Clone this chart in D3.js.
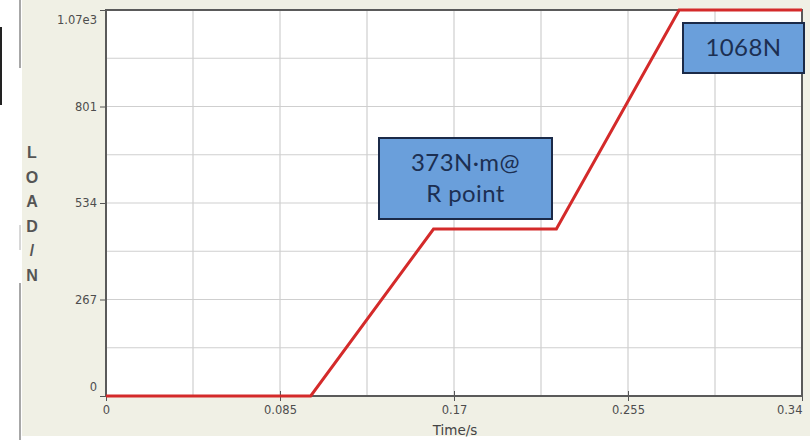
<!DOCTYPE html>
<html>
<head>
<meta charset="utf-8">
<script src="https://cdn.jsdelivr.net/npm/d3@7"></script>
<style>
  html, body { margin: 0; padding: 0; background: #fff; overflow: hidden; }
  svg { display: block; }
  .tick text { font-family: "DejaVu Sans", Verdana, sans-serif; font-size: 11.5px; fill: #4d4d4d; }
  .tick line { stroke: #555; }
  .domain { stroke: none; }
</style>
</head>
<body>
<div id="chart"></div>
<script>
// data
const timeValues = [0, 0.1, 0.16, 0.22, 0.28, 0.34];
const loadValues = [0, 0, 462, 462, 1068, 1068];
const xTickValues = [0, 0.085, 0.17, 0.255, 0.34];
const xTickLabels = ["0", "0.085", "0.17", "0.255", "0.34"];
const yTickValues = [0, 267, 534, 801, 1068];
const yTickLabels = ["0", "267", "534", "801", "1.07e3"];
const notes = [
    { lines: ["373N\u00b7m@", "R point"] },
    { lines: ["1068N"] }
];

const width = 810, height = 445;
const margin = { top: 10, right: 8, bottom: 49, left: 106 };
const innerWidth = width - margin.left - margin.right;
const innerHeight = height - margin.top - margin.bottom;

const svg = d3.select('#chart').append('svg')
    .attr('width', width)
    .attr('height', height);

// window frame bits from the screenshot
svg.append('rect').attr('x', 22).attr('y', 0).attr('width', width - 22).attr('height', 436)
    .attr('fill', '#f0f0e5');
svg.append('line').attr('x1', 20).attr('x2', 20).attr('y1', 0).attr('y2', 68)
    .attr('stroke', '#8a8a8a').attr('stroke-width', 1.5);
svg.append('line').attr('x1', 20).attr('x2', 20).attr('y1', 283).attr('y2', 440)
    .attr('stroke', '#8a8a8a').attr('stroke-width', 1.5);
svg.append('line').attr('x1', 20).attr('x2', 20).attr('y1', 225).attr('y2', 250)
    .attr('stroke', '#b0b0b0').attr('stroke-width', 1);
svg.append('line').attr('x1', 1).attr('x2', 1).attr('y1', 27).attr('y2', 105)
    .attr('stroke', '#222').attr('stroke-width', 2);

const g = svg.append('g')
    .attr('transform', `translate(${margin.left}, ${margin.top})`);

const scaleX = d3.scaleLinear().domain([0, 0.34]).range([0, innerWidth]);
const scaleY = d3.scaleLinear().domain([0, 1068]).range([innerHeight, 0]);

g.append('rect').attr('width', innerWidth).attr('height', innerHeight).attr('fill', '#fff');

// grid, every half tick
const xGrid = d3.range(1, 8).map(i => 0.34 * i / 8);
const yGrid = d3.range(1, 8).map(i => 1068 * i / 8);
g.selectAll('.grid-x').data(xGrid).enter().append('line')
    .attr('class', 'grid-x')
    .attr('x1', d => scaleX(d)).attr('x2', d => scaleX(d))
    .attr('y1', 0).attr('y2', innerHeight)
    .attr('stroke', '#cfcfcf').attr('stroke-width', 1.2);
g.selectAll('.grid-y').data(yGrid).enter().append('line')
    .attr('class', 'grid-y')
    .attr('y1', d => scaleY(d)).attr('y2', d => scaleY(d))
    .attr('x1', 0).attr('x2', innerWidth)
    .attr('stroke', '#cfcfcf').attr('stroke-width', 1.2);

// axes
const axisX = g.append('g')
    .attr('transform', `translate(0, ${innerHeight})`)
    .call(d3.axisBottom(scaleX).tickValues(xTickValues)
        .tickFormat((d, i) => xTickLabels[i]).tickSize(5).tickPadding(5));
axisX.selectAll('.tick line').attr('y1', -5);
axisX.selectAll('.tick text').filter((d, i) => i === xTickLabels.length - 1)
    .attr('text-anchor', 'end').attr('dx', 0);

const axisY = g.append('g')
    .call(d3.axisLeft(scaleY).tickValues(yTickValues)
        .tickFormat((d, i) => yTickLabels[i]).tickSize(6).tickPadding(3));
axisY.selectAll('.tick text').attr('dy', (d, i) => i === 0 ? '-0.45em' : (i === yTickLabels.length - 1 ? '1.15em' : '0.32em'));

// plot frame
g.append('rect').attr('width', innerWidth).attr('height', innerHeight)
    .attr('fill', 'none').attr('stroke', '#5a5a5a').attr('stroke-width', 2);

// load curve
const series = timeValues.map((t, i) => ({ t: t, v: loadValues[i] }));
const line = d3.line().x(d => scaleX(d.t)).y(d => scaleY(d.v));
g.append('path')
    .datum(series)
    .attr('d', line)
    .attr('fill', 'none')
    .attr('stroke', '#d42a2a')
    .attr('stroke-width', 3)
    .attr('stroke-linejoin', 'miter');

// axis titles
svg.append('text')
    .attr('x', 455).attr('y', 435)
    .attr('text-anchor', 'middle')
    .attr('font-family', '"DejaVu Sans", Verdana, sans-serif')
    .attr('font-size', 13.5).attr('fill', '#444')
    .text('Time/s');

svg.append('g').selectAll('text')
    .data('LOAD/N'.split('')).enter().append('text')
    .attr('x', 32).attr('y', (d, i) => 158 + i * 24.5)
    .attr('text-anchor', 'middle')
    .attr('font-family', '"Liberation Sans", Arial, sans-serif')
    .attr('font-size', 16).attr('font-weight', 'bold').attr('fill', '#555')
    .text(d => d);

// annotation boxes
const boxes = [
    { x: 379, y: 138, w: 173, h: 81 },
    { x: 683, y: 23, w: 121, h: 50 }
];
boxes.forEach((b, k) => {
    svg.append('rect')
        .attr('x', b.x).attr('y', b.y).attr('width', b.w).attr('height', b.h)
        .attr('fill', '#6a9fdb').attr('stroke', '#1b2a48').attr('stroke-width', 2);
    const lines = notes[k].lines;
    const lh = 31;
    const y0 = b.y + b.h / 2 - (lines.length - 1) * lh / 2;
    lines.forEach((s, j) => {
        svg.append('text')
            .attr('x', b.x + b.w / 2).attr('y', y0 + j * lh)
            .attr('dy', '0.35em')
            .attr('text-anchor', 'middle')
            .attr('font-family', 'Lato, "Open Sans", sans-serif')
            .attr('font-size', 24).attr('letter-spacing', 0.4).attr('fill', '#1c2f52')
            .text(s);
    });
});
</script>
</body>
</html>
